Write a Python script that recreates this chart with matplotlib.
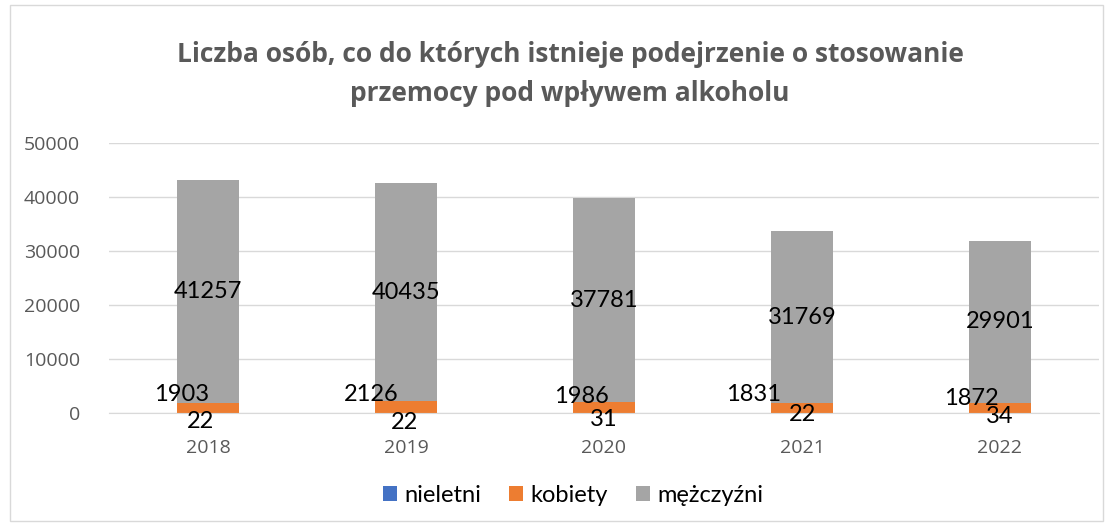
import matplotlib
matplotlib.use("Agg")
import matplotlib.pyplot as plt
from matplotlib.patches import Rectangle

years = ["2018", "2019", "2020", "2021", "2022"]
nieletni = [22, 22, 31, 22, 34]
kobiety = [1903, 2126, 1986, 1831, 1872]
mezczyzni = [41257, 40435, 37781, 31769, 29901]
yticks = [0, 10000, 20000, 30000, 40000, 50000]

title = "Liczba osób, co do których istnieje podejrzenie o stosowanie\nprzemocy pod wpływem alkoholu"

plt.rcParams['font.family'] = ['Lato', 'DejaVu Sans']

W, H = 1113, 528
fig = plt.figure(figsize=(W / 100, H / 100), dpi=100)
ax = fig.add_axes([109 / W, 1 - 413 / H, (1099 - 109) / W, 270 / H])

x = list(range(len(years)))
bw = 0.31
c_n, c_k, c_m = "#4472C4", "#ED7D31", "#A5A5A5"
ax.bar(x, nieletni, bw, color=c_n, label="nieletni", zorder=3)
bot2 = nieletni
ax.bar(x, kobiety, bw, bottom=bot2, color=c_k, label="kobiety", zorder=3)
bot3 = [a + b for a, b in zip(nieletni, kobiety)]
ax.bar(x, mezczyzni, bw, bottom=bot3, color=c_m, label="mężczyźni", zorder=3)

ax.set_xlim(-0.5, len(years) - 0.5)
ax.set_ylim(0, 50000)
ax.set_yticks(yticks)
ax.set_yticklabels([str(v) for v in yticks], fontfamily=['Open Sans', 'DejaVu Sans'])
ax.set_xticks(x)
ax.set_xticklabels(years, fontfamily=['Open Sans', 'DejaVu Sans'])
ax.tick_params(axis='both', length=0, labelsize=14, labelcolor="#595959")
ax.tick_params(axis='y', pad=21)
ax.tick_params(axis='x', pad=19)
ax.grid(axis='y', color="#D9D9D9", linewidth=1, zorder=0)
for s in ["top", "right", "left"]:
    ax.spines[s].set_visible(False)
ax.spines["bottom"].set_color("#D9D9D9")
ax.spines["bottom"].set_zorder(4)

# data labels (offsets in pixels, manual placement as in reference)
off_m = [(0, 0)] * 5
off_k = [(-26, 13), (-35, 13), (-23, 11), (-48, 13), (-29, 9)]
off_n = [(-8, -9), (-2, -10), (0, -7), (0, -2), (0, -4)]
fs = 17
for i in range(len(years)):
    ax.annotate(str(mezczyzni[i]), (x[i], bot3[i] + mezczyzni[i] / 2), xytext=off_m[i],
                textcoords='offset pixels', ha='center', va='center', fontsize=fs, color='black', zorder=5)
    ax.annotate(str(kobiety[i]), (x[i], bot2[i] + kobiety[i] / 2), xytext=off_k[i],
                textcoords='offset pixels', ha='center', va='center', fontsize=fs, color='black', zorder=5)
    ax.annotate(str(nieletni[i]), (x[i], nieletni[i] / 2), xytext=off_n[i],
                textcoords='offset pixels', ha='center', va='center', fontsize=fs, color='black', zorder=5)

fig.text(570 / W, 1 - 74 / H, title, ha='center', va='center', fontsize=19, fontweight='bold',
         color="#595959", linespacing=1.55, fontfamily=['Open Sans', 'DejaVu Sans'])

leg = fig.legend(loc='center', bbox_to_anchor=(573 / W, 1 - 495 / H), ncol=3, frameon=False,
                 fontsize=17, handlelength=0.6, handleheight=0.6, handletextpad=0.3, columnspacing=1.2)

fig.patches.append(Rectangle((10 / W, 1 - 521 / H), (1103 - 10) / W, (521 - 5) / H,
                             transform=fig.transFigure, fill=False, edgecolor="#D9D9D9", linewidth=1))

fig.savefig("out.png", dpi=100)
